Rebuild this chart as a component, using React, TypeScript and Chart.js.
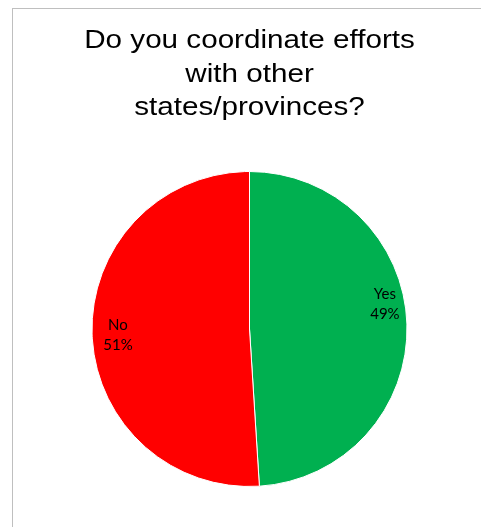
import React, { useEffect, useRef } from "react";
import { Chart, registerables } from "chart.js";

Chart.register(...registerables);

const titleLines = ["Do you coordinate efforts", "with other", "states/provinces?"];
const categories = ["Yes", "No"];
const values = [49, 51];
const colors = ["#00B050", "#FF0000"];
const labelAngleShift = [-8.9, -0.6]; // degrees, best-fit label nudge
const labelRadius = [0.875, 0.836]; // fraction of outer radius

const titlePlugin = {
  id: "stretchedTitle",
  afterDraw(chart: any) {
    const { ctx, chartArea } = chart;
    const cx = (chartArea.left + chartArea.right) / 2;
    ctx.save();
    ctx.fillStyle = "#000000";
    ctx.font = "26px 'Liberation Sans', Arial, sans-serif";
    ctx.textAlign = "center";
    ctx.textBaseline = "alphabetic";
    titleLines.forEach((line, i) => {
      ctx.save();
      ctx.translate(cx, 39.3 + i * 33.2);
      ctx.scale(1.14, 1);
      ctx.fillText(line, 0, 0);
      ctx.restore();
    });
    ctx.restore();
  },
};

const labelPlugin = {
  id: "sliceLabels",
  afterDatasetsDraw(chart: any) {
    const { ctx } = chart;
    const meta = chart.getDatasetMeta(0);
    const total = values.reduce((a, b) => a + b, 0);
    ctx.save();
    ctx.fillStyle = "#000000";
    ctx.font = "15px Lato, 'Open Sans', sans-serif";
    ctx.textAlign = "center";
    ctx.textBaseline = "alphabetic";
    meta.data.forEach((arc: any, i: number) => {
      const mid = (arc.startAngle + arc.endAngle) / 2 + (labelAngleShift[i] * Math.PI) / 180;
      const r = arc.outerRadius * labelRadius[i];
      const x = arc.x + Math.cos(mid) * r;
      const y = arc.y + Math.sin(mid) * r;
      const pct = Math.round((values[i] / total) * 100) + "%";
      ctx.fillText(categories[i], x, y - 4.5);
      ctx.fillText(pct, x, y + 15.5);
    });
    ctx.restore();
  },
};

export default function App() {
  const ref = useRef<HTMLCanvasElement | null>(null);
  useEffect(() => {
    if (!ref.current) return;
    const chart = new Chart(ref.current, {
      type: "pie",
      data: {
        labels: categories,
        datasets: [
          {
            data: values,
            backgroundColor: colors,
            borderColor: "#ffffff",
            borderWidth: 1,
          },
        ],
      },
      options: {
        animation: false,
        responsive: true,
        maintainAspectRatio: false,
        layout: { padding: { left: 78, right: 73, top: 162, bottom: 40 } },
        plugins: {
          legend: { display: false },
          tooltip: { enabled: false },
          title: { display: false },
        },
      },
      plugins: [labelPlugin, titlePlugin],
    });
    return () => chart.destroy();
  }, []);
  return (
    <div style={{ position: "fixed", left: 0, top: 0, width: 481, height: 527, background: "#fff", overflow: "hidden" }}>
      <div
        style={{
          position: "absolute",
          left: 12,
          top: 8,
          width: 600,
          height: 600,
          border: "1px solid #bfbfbf",
          boxSizing: "border-box",
        }}
      />
      <div style={{ position: "absolute", left: 13, top: 9, width: 468, height: 518 }}>
        <canvas ref={ref} />
      </div>
    </div>
  );
}
